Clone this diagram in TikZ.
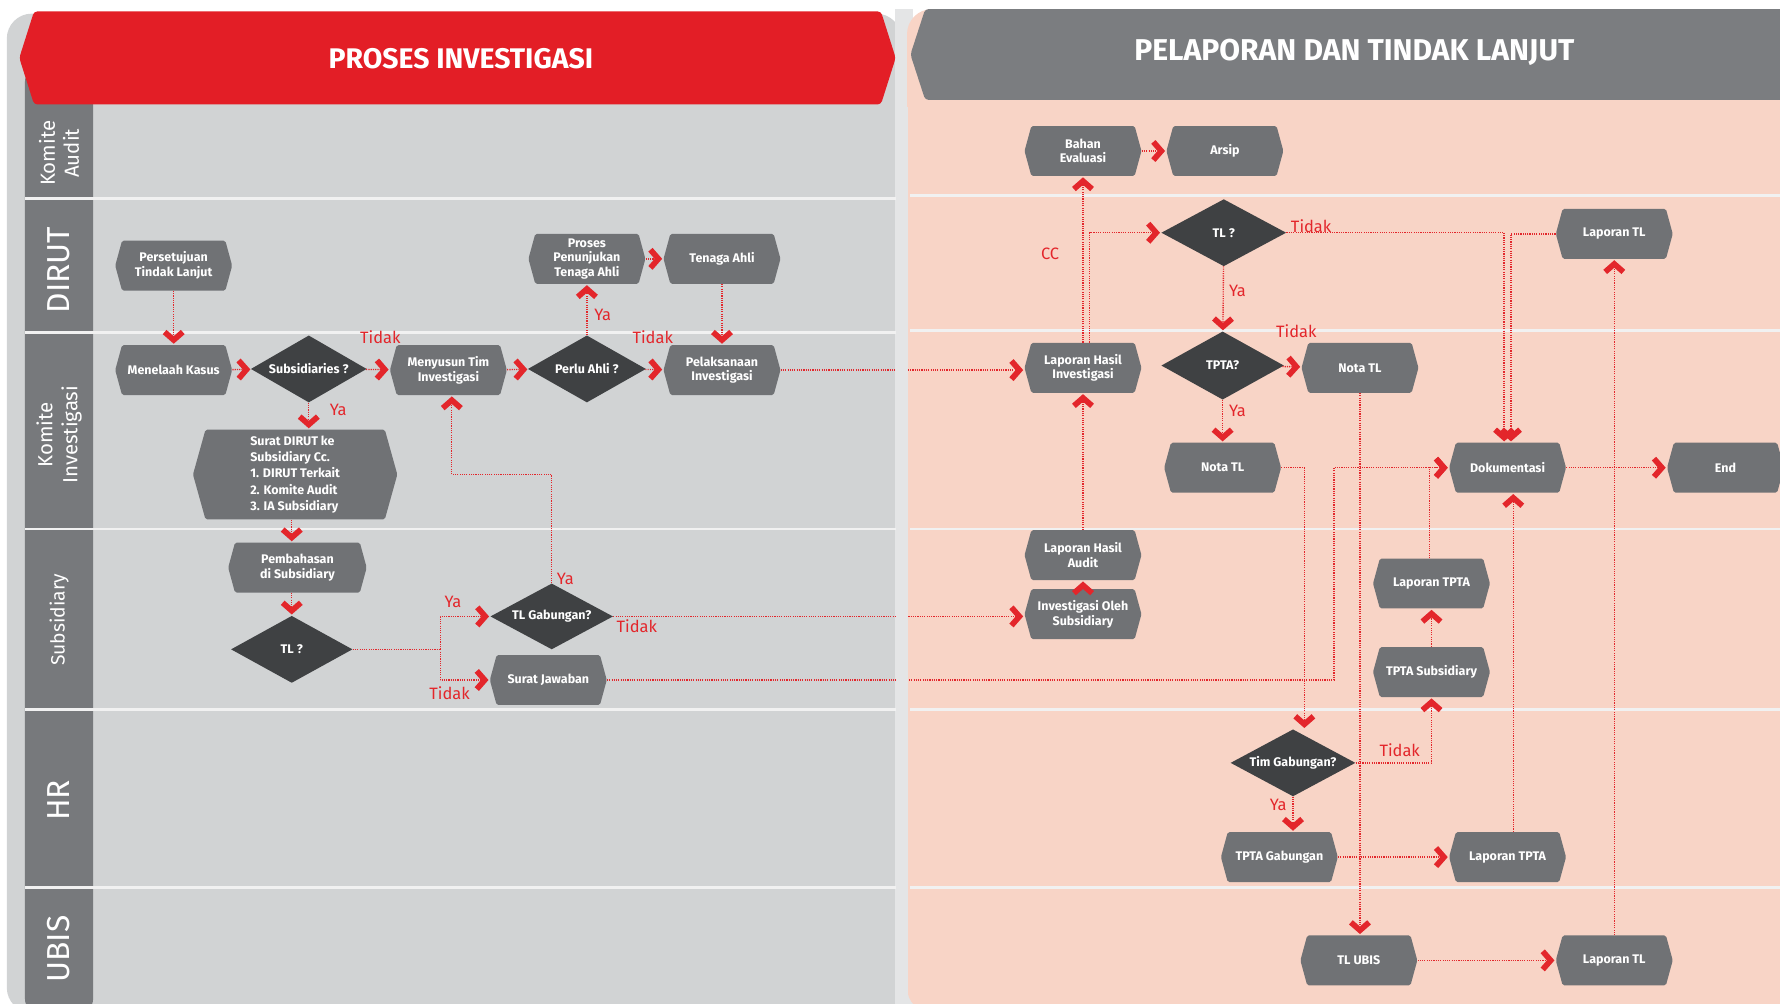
\documentclass[tikz,border=0pt]{standalone}
\usepackage{fontspec}
\setmainfont{Fira Sans}
\usetikzlibrary{arrows.meta,shapes.geometric}

\definecolor{panelgrey}{HTML}{D1D3D4}
\definecolor{gapgrey}{HTML}{E4E5E6}
\definecolor{panelpeach}{HTML}{F8D4C6}
\definecolor{hdrred}{HTML}{E31E26}
\definecolor{hdrgrey}{HTML}{7B7D80}
\definecolor{lanegrey}{HTML}{77797C}
\definecolor{boxgrey}{HTML}{707275}
\definecolor{decgrey}{HTML}{3F4143}
\definecolor{linkred}{HTML}{E3262B}
\definecolor{sepline}{HTML}{F1F1F1}

\tikzset{
  hexcut/.store in=\hexcut, hexcut=6pt,
  procbox/.style={rectangle, minimum width=103pt, minimum height=44pt, inner sep=0pt,
    text=white, align=center, font=\bfseries\fontsize{11}{13}\selectfont,
    path picture={\fill[boxgrey, rounded corners=1.5pt]
      ([xshift=\hexcut]path picture bounding box.north west) --
      ([xshift=-\hexcut]path picture bounding box.north east) --
      (path picture bounding box.east) --
      ([xshift=-\hexcut]path picture bounding box.south east) --
      ([xshift=\hexcut]path picture bounding box.south west) --
      (path picture bounding box.west) -- cycle;}},
  decision/.style={diamond, fill=decgrey, minimum width=107pt, minimum height=59pt,
    inner sep=0pt, aspect=1.8, text=white, font=\bfseries\fontsize{11}{13}\selectfont},
  link/.style={draw=linkred, line width=1.2pt, dash pattern=on 1pt off 1pt},
  flow/.style={link, shorten >=1pt,
    -{Straight Barb[length=7pt,width=16pt,line width=5pt]}},
  answer/.style={text=linkred, font=\fontsize{14.5}{16}\selectfont, inner sep=0pt},
  lanelabel/.style={rotate=90, text=white, align=center, inner sep=0pt},
  header/.style={text=white, font=\bfseries\fontsize{25}{27}\selectfont, inner sep=0pt},
}

\begin{document}
\begin{tikzpicture}[x=1pt,y=-1pt]
\useasboundingbox (0,0) rectangle (1568,884);

% background panels
\fill[panelgrey, rounded corners=22pt] (6,12) rectangle (794,892);
\fill[gapgrey] (788,8) rectangle (804,892);
\fill[panelpeach, rounded corners=22pt] (799,8) rectangle (1600,892);

% lane title column
\fill[lanegrey, rounded corners=12pt] (22,60) rectangle (82,892);

% lane separators
\foreach \yy in {175,293,466,625,782}
  \draw[sepline, line width=2.5pt] (22,\yy) -- (790,\yy);
\foreach \yy in {172,291,466,625,782}
  \draw[sepline, line width=2.5pt] (802,\yy) -- (1568,\yy);

% section headers
\fill[hdrred, rounded corners=3pt] (30,10) -- (776,10) -- (789,51) -- (776,92)
  -- (30,92) -- (17,51) -- cycle;
\fill[hdrgrey, rounded corners=3pt] (815,8) -- (1580,8) -- (1580,88) -- (815,88)
  -- (802,48) -- cycle;
\node[header] (hdrL) at (406,52) {PROSES INVESTIGASI};
\node[header, font=\bfseries\fontsize{26.5}{28}\selectfont] (hdrR) at (1193,46) {PELAPORAN DAN TINDAK LANJUT};

% lane titles
\node[lanelabel, font=\fontsize{18}{21}\selectfont] (laneKA) at (52,135) {Komite\\Audit};
\node[lanelabel, font=\fontsize{28}{30}\selectfont] (laneDIRUT) at (52,238) {DIRUT};
\node[lanelabel, font=\fontsize{18}{22}\selectfont] (laneKI) at (52,383) {Komite\\Investigasi};
\node[lanelabel, font=\fontsize{17}{20}\selectfont] (laneSub) at (52,546) {Subsidiary};
\node[lanelabel, font=\fontsize{28}{30}\selectfont] (laneHR) at (52,705) {HR};
\node[lanelabel, font=\fontsize{28}{30}\selectfont] (laneUBIS) at (52,836) {UBIS};

% ---- investigation process ----
\node[procbox] (pers) at (153,234) {Persetujuan\\Tindak Lanjut};
\node[procbox] (menelaah) at (153,326) {Menelaah Kasus};
\node[decision, minimum width=102pt] (subs) at (272,325) {Subsidiaries ?};
\node[procbox] (menyusun) at (395,326) {Menyusun Tim\\Investigasi};
\node[decision, minimum width=104pt] (perlu) at (517,325) {Perlu Ahli ?};
\node[procbox] (proses) at (517,228) {Proses\\Penunjukan\\Tenaga Ahli};
\node[procbox] (tenaga) at (636,228) {Tenaga Ahli};
\node[procbox] (pelaks) at (636,326) {Pelaksanaan\\Investigasi};
\node[procbox, minimum width=180pt, minimum height=79pt, hexcut=11pt,
  font=\bfseries\fontsize{11}{14.3}\selectfont, align=left] (surat) at (260,418)
  {Surat DIRUT ke\\Subsidiary Cc.\\1. DIRUT Terkait\\2. Komite Audit\\3. IA Subsidiary};
\node[procbox, minimum width=122pt] (pembahasan) at (262,500) {Pembahasan\\di Subsidiary};
\node[decision] (tlsub) at (257,572) {TL ?};
\node[decision, minimum width=108pt, minimum height=58pt] (tlgab) at (486,543) {TL Gabungan?};
\node[procbox] (jawaban) at (483,599) {Surat Jawaban};

% ---- reporting and follow-up ----
\node[procbox] (bahan) at (954,133) {Bahan\\Evaluasi};
\node[procbox] (arsip) at (1079,133) {Arsip};
\node[decision, minimum width=110pt] (tlq) at (1078,205) {TL ?};
\node[procbox] (laptlA) at (1422,206) {Laporan TL};
\node[procbox] (lhi) at (954,324) {Laporan Hasil\\Investigasi};
\node[decision, minimum width=108pt, minimum height=60pt] (tpta) at (1077,322) {TPTA?};
\node[procbox] (notaA) at (1198,324) {Nota TL};
\node[procbox] (notaB) at (1077,412) {Nota TL};
\node[procbox] (dok) at (1328,412) {Dokumentasi};
\node[procbox] (endn) at (1520,412) {End};
\node[procbox] (lha) at (954,489) {Laporan Hasil\\Audit};
\node[procbox] (invsub) at (954,541) {Investigasi Oleh\\Subsidiary};
\node[procbox] (laptptaA) at (1261,514) {Laporan TPTA};
\node[procbox] (tptasub) at (1261,592) {TPTA Subsidiary};
\node[decision, minimum width=110pt] (timgab) at (1139,672) {Tim Gabungan?};
\node[procbox] (tptagab) at (1127,755) {TPTA Gabungan};
\node[procbox] (laptptaB) at (1328,755) {Laporan TPTA};
\node[procbox] (tlubis) at (1197,846) {TL UBIS};
\node[procbox] (laptlB) at (1422,846) {Laporan TL};

% junction points
\coordinate (brTL) at (388,572);
\coordinate (upGab) at (486,418);
\coordinate (jwTurn) at (1175,412);

% ---- connectors: investigation process ----
\draw[flow] (pers) -- (menelaah);
\draw[flow] (menelaah) -- (subs);
\draw[flow] (subs) -- (menyusun);
\draw[flow] (subs.south) -- (subs.south |- surat.north);
\draw[flow] (menyusun) -- (perlu);
\draw[flow] (perlu.north) -- (perlu.north |- proses.south);
\draw[flow] (perlu) -- (pelaks);
\draw[flow] (proses) -- (tenaga);
\draw[flow] (tenaga) -- (pelaks);
\draw[flow] (pelaks.east) -- (pelaks.east -| lhi.west);
\draw[flow] (surat.south -| tlsub.north) -- (pembahasan.north -| tlsub.north);
\draw[flow] (pembahasan.south -| tlsub.north) -- (tlsub.north);
\draw[link] (tlsub.east) -- (brTL);
\draw[flow] (brTL) |- (tlgab.west);
\draw[flow] (brTL) |- (jawaban.west);
\draw[flow] (tlgab.north) -- (upGab) -| ([xshift=3pt]menyusun.south);
\draw[flow] (tlgab.east) -- (tlgab.east -| invsub.west);
\draw[flow] (jawaban.east) -| (jwTurn) -- (dok.west);

% ---- connectors: reporting and follow-up ----
\draw[flow] (invsub) -- (lha);
\draw[flow] (lha) -- (lhi);
\draw[flow] (lhi) -- (bahan);
\draw[flow] ([xshift=6pt]lhi.north) |- (tlq.west);
\draw[flow] (bahan) -- (arsip);
\draw[flow] (tlq) -- (tpta);
\draw[flow] (tlq.east) -| ([xshift=-3pt]dok.north);
\draw[flow] (laptlA.west) -| ([xshift=3pt]dok.north);
\draw[flow] (tpta) -- (notaA);
\draw[flow] (tpta) -- (notaB);
\draw[flow] (notaB.east) -| ([xshift=10pt]timgab.north);
\draw[flow] (notaA.south) -- (notaA.south |- tlubis.north);
\draw[flow] (timgab.east) -| (tptasub.south);
\draw[flow] (tptasub) -- (laptptaA);
\draw[flow] ([xshift=-2pt]laptptaA.north) |- (dok.west);
\draw[flow] (timgab.south) -- (timgab.south |- tptagab.north);
\draw[flow] (tptagab) -- (laptptaB);
\draw[flow] ([xshift=5pt]laptptaB.north) -- ([xshift=5pt]dok.south);
\draw[flow] (tlubis) -- (laptlB);
\draw[flow] (laptlB) -- (laptlA);
\draw[flow] (dok) -- (endn);

% divider strip between the two sections, drawn over the crossing links
\fill[gapgrey] (789,94) rectangle (800,892);

% ---- branch labels ----
\node[answer] (t1) at (335,297) {Tidak};
\node[answer] (y1) at (298,361) {Ya};
\node[answer] (y2) at (531,277) {Ya};
\node[answer] (t2) at (575,297) {Tidak};
\node[answer] (y3) at (399,530) {Ya};
\node[answer] (t3) at (396,611) {Tidak};
\node[answer] (y4) at (498,510) {Ya};
\node[answer] (t4) at (561,552) {Tidak};
\node[answer] (cc) at (925,224) {CC};
\node[answer] (t5) at (1155,199) {Tidak};
\node[answer] (y5) at (1090,256) {Ya};
\node[answer] (t6) at (1142,292) {Tidak};
\node[answer] (y6) at (1090,362) {Ya};
\node[answer] (t7) at (1233,661) {Tidak};
\node[answer] (y7) at (1126,709) {Ya};
\end{tikzpicture}
\end{document}
